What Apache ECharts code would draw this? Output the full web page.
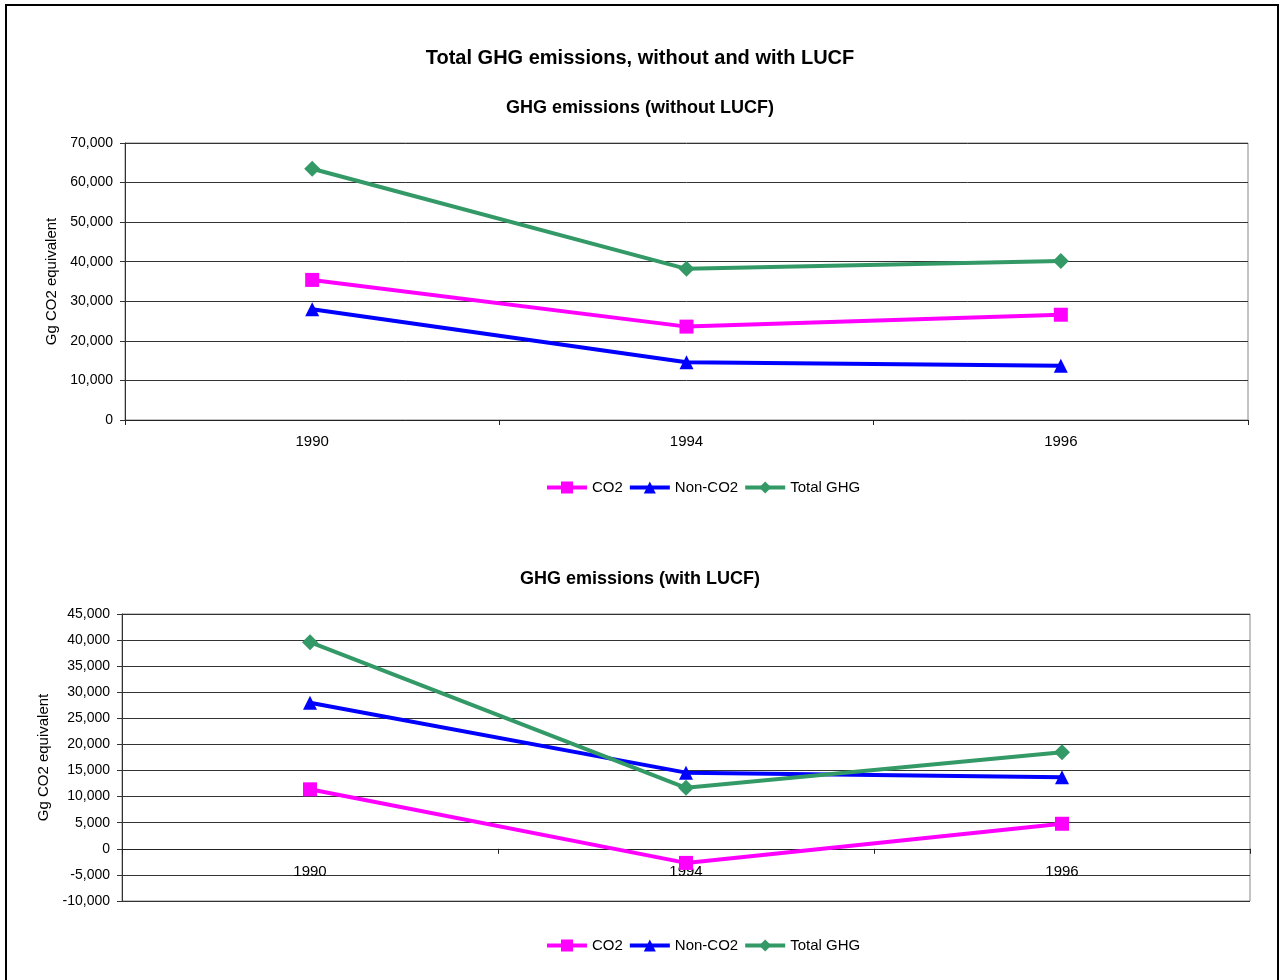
<!DOCTYPE html>
<html>
<head>
<meta charset="utf-8">
<script src="https://cdn.jsdelivr.net/npm/echarts@6/dist/echarts.min.js"></script>
<style>
html,body{margin:0;padding:0;background:#fff;}
#chart{width:1280px;height:980px;}
</style>
</head>
<body>
<div id="chart"></div>
<script>
const categories = ['1990', '1994', '1996'];
const seriesNames = ['CO2', 'Non-CO2', 'Total GHG'];
// Without LUCF
const co2Without = [35400, 23600, 26600];
const nonCo2Without = [28000, 14600, 13700];
const totalWithout = [63500, 38200, 40200];
// With LUCF
const co2With = [11400, -2700, 4800];
const nonCo2With = [28000, 14600, 13700];
const totalWith = [39600, 11700, 18500];

const yTopTicks = { min: 0, max: 70000, interval: 10000 };
const yBottomTicks = { min: -10000, max: 45000, interval: 5000 };

const colors = ['#FF00FF', '#0000FF', '#339966'];
const symbols = ['rect', 'triangle', 'diamond'];
const symbolSizes = [14, 14, 16];
const FONT = 'Liberation Sans, Arial, sans-serif';

const fmt = v => v.toLocaleString('en-US');

function xAxis(gridIndex, labelMargin) {
  return {
    type: 'category', gridIndex, data: categories, boundaryGap: true,
    axisLine: { show: true, onZero: true, lineStyle: { color: '#222', width: 1 } },
    axisTick: { show: true, length: 5, inside: false, lineStyle: { color: '#222' } },
    axisLabel: { color: '#000', fontSize: 15, fontFamily: FONT, margin: labelMargin },
    splitLine: { show: false }
  };
}
function yAxis(gridIndex, t, gap) {
  return {
    type: 'value', gridIndex, min: t.min, max: t.max, interval: t.interval,
    name: 'Gg CO2 equivalent', nameLocation: 'middle', nameGap: gap, nameRotate: 90,
    nameTextStyle: { color: '#000', fontSize: 15, fontFamily: FONT },
    axisLine: { show: true, lineStyle: { color: '#333', width: 1 } },
    axisTick: { show: true, length: 5, lineStyle: { color: '#333' } },
    axisLabel: { color: '#000', fontSize: 14, fontFamily: FONT, margin: 12, formatter: fmt },
    splitLine: { show: true, lineStyle: { color: '#333', width: 1 } }
  };
}
function mkSeries(name, idx, data, axisIndex) {
  return {
    name, type: 'line', data, xAxisIndex: axisIndex, yAxisIndex: axisIndex,
    symbol: symbols[idx], symbolSize: symbolSizes[idx], showSymbol: true,
    lineStyle: { color: colors[idx], width: 4 },
    itemStyle: { color: colors[idx] },
    emphasis: { disabled: true }
  };
}

const legendCommon = {
  data: seriesNames, left: 540, itemWidth: 40, itemHeight: 15, itemGap: 5,
  lineStyle: { width: 4 },
  textStyle: { color: '#000', fontSize: 15, fontFamily: FONT }, selectedMode: false
};

const chart = echarts.init(document.getElementById('chart'), null, { renderer: 'canvas' });
chart.setOption({
  animation: false,
  backgroundColor: '#fff',
  title: [
    { text: 'Total GHG emissions, without and with LUCF', left: 'center', top: 43,
      textStyle: { fontSize: 20, fontWeight: 'bold', color: '#000', fontFamily: FONT } },
    { text: 'GHG emissions (without LUCF)', left: 'center', top: 94,
      textStyle: { fontSize: 18, fontWeight: 'bold', color: '#000', fontFamily: FONT } },
    { text: 'GHG emissions (with LUCF)', left: 'center', top: 565,
      textStyle: { fontSize: 18, fontWeight: 'bold', color: '#000', fontFamily: FONT } }
  ],
  legend: [
    Object.assign({}, legendCommon, { top: 475 }),
    Object.assign({}, legendCommon, { top: 933 })
  ],
  grid: [
    { left: 125, right: 32, top: 143, height: 277, show: true, borderColor: '#888', borderWidth: 1 },
    { left: 122, right: 30, top: 614, height: 287, show: true, borderColor: '#888', borderWidth: 1 }
  ],
  xAxis: [xAxis(0, 14), xAxis(1, -37)],
  yAxis: [yAxis(0, yTopTicks, 65), yAxis(1, yBottomTicks, 70)],
  series: [
    mkSeries('CO2', 0, co2Without, 0),
    mkSeries('Non-CO2', 1, nonCo2Without, 0),
    mkSeries('Total GHG', 2, totalWithout, 0),
    mkSeries('CO2', 0, co2With, 1),
    mkSeries('Non-CO2', 1, nonCo2With, 1),
    mkSeries('Total GHG', 2, totalWith, 1)
  ],
  graphic: [
    { type: 'rect', silent: true, z: 100,
      shape: { x: 6, y: 5, width: 1272, height: 1000 },
      style: { fill: 'none', stroke: '#000', lineWidth: 2 } }
  ]
});
</script>
</body>
</html>
